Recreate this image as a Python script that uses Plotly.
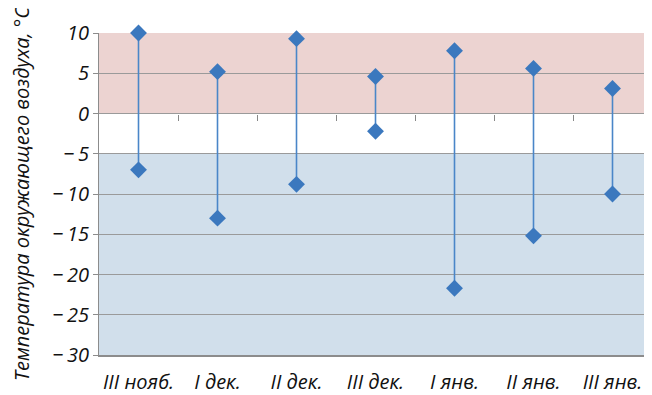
import plotly.graph_objects as go

categories = ["III нояб.", "I дек.", "II дек.", "III дек.", "I янв.", "II янв.", "III янв."]
t_max = [10, 5.2, 9.3, 4.6, 7.8, 5.6, 3.1]
t_min = [-7, -13, -8.8, -2.2, -21.7, -15.2, -10]
y_ticks = [-30, -25, -20, -15, -10, -5, 0, 5, 10]
y_ticktext = ["−\u200930", "−\u200925", "−\u200920", "−\u200915", "−\u200910", "−\u20095", "0", "5", "10"]

FONT = "Open Sans"
BLUE = "#3b78be"

fig = go.Figure()

for c, hi, lo in zip(categories, t_max, t_min):
    fig.add_trace(go.Scatter(
        x=[c, c], y=[hi, lo], mode="lines+markers",
        line=dict(color="#4a86c8", width=1.6),
        marker=dict(symbol="diamond", size=13, color=BLUE),
        showlegend=False, hoverinfo="y", cliponaxis=False,
    ))

# background bands
fig.add_shape(type="rect", xref="paper", yref="y", x0=0, x1=1, y0=0, y1=10,
              fillcolor="#ecd3d1", line_width=0, layer="below")
fig.add_shape(type="rect", xref="paper", yref="y", x0=0, x1=1, y0=-30, y1=-5,
              fillcolor="#d1dfeb", line_width=0, layer="below")

# category-boundary ticks on the zero line (overlay axis)
fig.add_trace(go.Scatter(x=[0.5, 1.5], y=[None, None], xaxis="x2", showlegend=False, hoverinfo="skip"))

fig.update_layout(
    width=644, height=387,
    margin=dict(l=91, r=0, t=25, b=40),
    paper_bgcolor="white", plot_bgcolor="rgba(0,0,0,0)",
    xaxis=dict(
        type="category", categoryorder="array", categoryarray=categories,
        range=[-0.5, 6.5], showgrid=False, showline=True, linecolor="#8c8c8c", linewidth=2,
        ticks="", tickfont=dict(family=FONT, size=20, color="#111", style="italic"),
        ticklabelstandoff=8, automargin=False,
    ),
    xaxis2=dict(
        overlaying="x", anchor="free", position=0.75, range=[-0.5, 6.5],
        tickvals=[0.5, 1.5, 2.5, 3.5, 4.5, 5.5, 6.5], showticklabels=False,
        ticks="outside", ticklen=6, tickcolor="#888888", tickwidth=1.2,
        showgrid=False, showline=False, zeroline=False, automargin=False,
    ),
    yaxis=dict(
        range=[-30, 10], tickvals=y_ticks, ticktext=y_ticktext,
        showgrid=True, gridcolor="#9a9a9a", gridwidth=1,
        zeroline=False, showline=True, linecolor="#8c8c8c", linewidth=1,
        ticks="outside", ticklen=5, tickcolor="#8c8c8c",
        tickfont=dict(family=FONT, size=20, color="#111", style="italic"),
        automargin=False,
        title=dict(text="Температура окружающего воздуха, °С",
                   font=dict(family=FONT, size=20, color="#111", style="italic"),
                   standoff=18),
    ),
)

fig.write_html("out.html")
